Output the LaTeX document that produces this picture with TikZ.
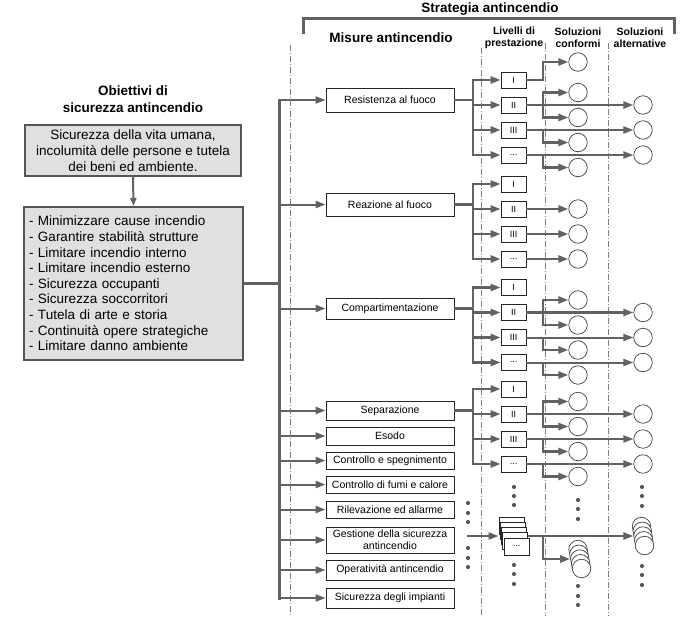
\documentclass[tikz,border=0pt]{standalone}
\usepackage{fontspec}
\setmainfont{Liberation Sans}
\usetikzlibrary{arrows.meta,calc}
\definecolor{lg}{HTML}{626262}
\definecolor{bfill}{HTML}{E0E0E0}
\definecolor{bdr}{HTML}{555555}
\begin{document}
\begin{tikzpicture}[x=1pt,y=-1pt,
  conn/.style={draw=lg,line width=2.5pt},
  tconn/.style={draw=lg,line width=2pt},
  arr/.style={-{Triangle[length=10pt,width=7pt]}},
  sarr/.style={-{Triangle[length=8pt,width=6pt]}},
  vcap/.style={line cap=rect},
  mbox/.style={draw=black!85,line width=0.8pt,fill=white,minimum width=128pt,inner sep=1pt,font=\fontsize{10.5}{12}\selectfont,align=center},
  lbox/.style={draw=black!85,line width=0.8pt,fill=white,minimum width=25pt,minimum height=16pt,inner sep=0pt,font=\fontsize{9}{10}\selectfont},
  circ/.style={circle,draw=black!75,line width=0.7pt,fill=white,minimum size=18.5pt,inner sep=0pt},
  sep/.style={draw=black!50,line width=0.5pt,dash pattern=on 6pt off 2pt on 1pt off 2pt},
  gbox/.style={draw=bdr,line width=2pt,fill=bfill,font=\fontsize{13.5}{16}\selectfont},
  head/.style={font=\bfseries\fontsize{13.5}{17}\selectfont},
  shead/.style={font=\bfseries\fontsize{10.5}{12}\selectfont,align=center},
  dotc/.style={fill=black!65},
]
\useasboundingbox (0,0) rectangle (700,616);

% column separators
\draw[sep] (290,45) -- (290,616);
\draw[sep] (481,48) -- (481,616);
\draw[sep] (545,43) -- (545,616);
\draw[sep] (608,43) -- (608,616);

% reference coordinates
\coordinate (trunk) at (279,0);
\coordinate (bx) at (473,0);
\coordinate (cx) at (543,0);
\coordinate (cc) at (578,0);
\coordinate (ax) at (643,0);

% headers
\node[head] (strat) at (490,9) {Strategia antincendio};
\draw[draw=lg,line width=3pt] (303,34) -- (303,18) -- (674,18) -- (674,34);
\node[head] (mis) at (391,38) {Misure antincendio};
\node[shead] (liv) at (514,38) {Livelli di\\prestazione};
\node[shead] (conf) at (578,38) {Soluzioni\\conformi};
\node[shead] (alt) at (640,38) {Soluzioni\\alternative};

% left side
\node[head,align=center] (objt) at (133,99.5) {Obiettivi di\\sicurezza antincendio};
\node[gbox,minimum width=216pt,minimum height=51pt,align=center,inner sep=0pt] (goal) at (133,150.5)
  {Sicurezza della vita umana,\\incolumità delle persone e tutela\\dei beni ed ambiente.};
\node[gbox,font=\fontsize{13.5}{15.6}\selectfont,minimum height=153pt,text width=209pt,inner xsep=5pt,inner ysep=0pt,align=left] (obj) at (133.5,283.5)
  {- Minimizzare cause incendio\\
   - Garantire stabilità strutture\\
   - Limitare incendio interno\\
   - Limitare incendio esterno\\
   - Sicurezza occupanti\\
   - Sicurezza soccorritori\\
   - Tutela di arte e storia\\
   - Continuità opere strategiche\\
   - Limitare danno ambiente};
\draw[tconn,sarr] (goal.south) -- (obj.north);

% measures
\node[mbox,minimum height=24pt] (m1) at (390,100) {Resistenza al fuoco};
\node[mbox,minimum height=23pt] (m2) at (390,204.5) {Reazione al fuoco};
\node[mbox,minimum height=21pt] (m3) at (390,308.5) {Compartimentazione};
\node[mbox,minimum height=19pt] (m4) at (390,410.5) {Separazione};
\node[mbox,minimum height=18pt] (m5) at (390,436) {Esodo};
\node[mbox,minimum height=17pt] (m6) at (390,460.5) {Controllo e spegnimento};
\node[mbox,minimum height=17pt] (m7) at (390,484.5) {Controllo di fumi e calore};
\node[mbox,minimum height=17pt] (m8) at (390,509.5) {Rilevazione ed allarme};
\node[mbox,minimum height=26pt] (m9) at (390,540) {Gestione della sicurezza\\antincendio};
\node[mbox,minimum height=20pt] (m10) at (390,570) {Operatività antincendio};
\node[mbox,minimum height=20pt] (m11) at (390,598) {Sicurezza degli impianti};

% trunk
\draw[draw=lg,line width=3pt] (obj.east) -- (trunk |- obj.east);
\draw[draw=lg,line width=3pt,vcap] (trunk |- m1) -- (trunk |- m11);
\foreach \m in {1,...,11} \draw[tconn,arr] (trunk |- m\m.west) -- (m\m.west);

% levels
\foreach \g/\y in {1/80,2/184,3/287.5,4/389} {
  \node[lbox] (l\g-a) at (513.5,\y) {I};
  \node[lbox] (l\g-b) at (513.5,\y+25) {II};
  \node[lbox] (l\g-c) at (513.5,\y+50) {III};
  \node[lbox] (l\g-d) at (513.5,\y+75) {...};
}
\foreach \g in {1,...,4} {
  \draw[conn] (m\g.east) -- (bx |- m\g.east);
  \draw[conn,vcap] (bx |- l\g-a) -- (bx |- l\g-d);
  \foreach \k in {a,b,c,d} \draw[conn,arr] (bx |- l\g-\k) -- (l\g-\k.west);
}

% solutions for groups 1, 3, 4
\node[circ] (c1-a) at (578,62) {};
\draw[conn,arr] (l1-a.east) -| (cx |- c1-a) -- (c1-a.west);
\foreach \g in {1,3,4} {
  \node[circ] (c\g-b) at ($(cc |- l\g-b)+(0,-12.5)$) {};
  \node[circ] (c\g-c) at ($(cc |- l\g-b)+(0,12.5)$) {};
  \node[circ] (c\g-d) at ($(cc |- l\g-c)+(0,12.5)$) {};
  \node[circ] (c\g-e) at ($(cc |- l\g-d)+(0,12.5)$) {};
  \node[circ] (a\g-b) at (ax |- l\g-b) {};
  \node[circ] (a\g-c) at (ax |- l\g-c) {};
  \node[circ] (a\g-d) at (ax |- l\g-d) {};
  \draw[conn,arr] (l\g-b.east) -- (a\g-b.west);
  \draw[tconn,arr] (l\g-c.east) -- (a\g-c.west);
  \draw[tconn,arr] (l\g-d.east) -- (a\g-d.west);
  \draw[conn,vcap] (cx |- c\g-b) -- (cx |- c\g-c);
  \draw[conn,arr] (cx |- c\g-b) -- (c\g-b.west);
  \draw[conn,arr] (cx |- c\g-c) -- (c\g-c.west);
  \draw[conn,arr] (cx |- l\g-c) |- (c\g-d.west);
  \draw[conn,arr] (cx |- l\g-d) |- (c\g-e.west);
}
% group 2
\foreach \k in {b,c,d} {
  \node[circ] (c2-\k) at (cc |- l2-\k) {};
  \draw[conn,arr] (l2-\k.east) -- (c2-\k.west);
}

% stacked levels for the remaining measures
\node[lbox,minimum height=17pt] (s1) at (511.5,525.5) {};
\node[lbox,minimum height=17pt] (s2) at (512.75,530.75) {};
\node[lbox,minimum height=17pt] (s3) at (514,536) {};
\node[lbox,minimum height=17pt] (s4) at (515.25,541.25) {};
\node[lbox,minimum height=17pt] (s5) at (516.5,546.5) {...};

\node[circ] (t1) at (641.5,526.5) {};
\node[circ] (t2) at (642.25,531.25) {};
\node[circ] (t3) at (643,536) {};
\node[circ] (t4) at (643.75,540.75) {};
\node[circ] (t5) at (644.5,545.5) {};

\node[circ] (k1) at (578,549.5) {};
\node[circ] (k2) at (578.9,554.25) {};
\node[circ] (k3) at (579.75,559) {};
\node[circ] (k4) at (580.6,563.75) {};
\node[circ] (k5) at (581.5,568.5) {};

\coordinate (gin) at (467,536);
\draw[tconn,arr] (gin) -- (s1.west |- gin);
\draw[conn,arr] (s4.east |- gin) -- (t3.west);
\draw[conn,arr] (cx |- gin) |- (k3.west);

% dots
\foreach \x/\y in {468/503,468/513,468/522,468/548,468/558,468/567,
                   514/487,514/496,514/505,514/565,514/574,514/584,
                   578/500,578/509,578/519,578/586,578/596,578/605,
                   642/487,642/496,642/506,642/566,642/575,642/585}
  \fill[dotc] (\x,\y) circle (2.1pt);
\end{tikzpicture}
\end{document}
